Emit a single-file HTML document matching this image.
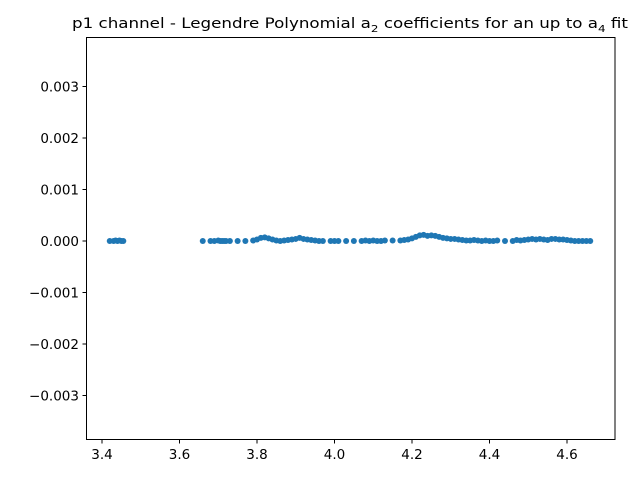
<!DOCTYPE html>
<html><head><meta charset="utf-8">
<style>
body{margin:0;background:#fff;}
svg{display:block;font-family:"DejaVu Sans","Liberation Sans",sans-serif;}
</style></head><body>
<svg id="chart" width="640" height="480">
<rect width="640" height="480" fill="#fff"/>
<g id="marks"></g>
<rect x="86.5" y="37.5" width="528.5" height="402" fill="none" stroke="#000" stroke-width="1"/>
<g id="xticks"></g>
<g id="yticks"></g>
<text x="72" y="28" font-size="14" textLength="556" lengthAdjust="spacingAndGlyphs">p1 channel - Legendre Polynomial a<tspan font-size="10" dy="4">2</tspan><tspan dy="-4"> coefficients for an up to a</tspan><tspan font-size="10" dy="4">4</tspan><tspan dy="-4"> fit</tspan></text>
</svg>
<script>
const xTicks=[3.4,3.6,3.8,4.0,4.2,4.4,4.6];
const xTickLabels=["3.4","3.6","3.8","4.0","4.2","4.4","4.6"];
const yTicks=[-0.003,-0.002,-0.001,0,0.001,0.002,0.003];
const yTickLabels=["−0.003","−0.002","−0.001","0.000","0.001","0.002","0.003"];
const xs=[3.42,3.43,3.435,3.44,3.445,3.45,3.455,
3.66,3.68,3.69,3.70,3.705,3.71,3.715,3.72,3.73,3.75,3.77,3.79,3.80,3.81,3.82,3.83,3.84,3.85,3.86,3.87,3.88,3.89,3.90,3.91,3.92,3.93,3.94,3.95,3.96,3.97,3.99,4.00,4.01,4.03,4.05,4.07,4.08,4.09,4.10,4.11,4.12,4.13,4.15,4.17,4.18,4.19,4.20,4.21,4.22,4.23,4.24,4.25,4.26,4.27,4.28,4.29,4.30,4.31,4.32,4.33,4.34,4.35,4.36,4.37,4.38,4.39,4.40,4.41,4.42,4.44,4.46,4.47,4.48,4.49,4.50,4.51,4.52,4.53,4.54,4.55,4.56,4.57,4.58,4.59,4.60,4.61,4.62,4.63,4.64,4.65,4.66];
const ys=[0,0,0.00001,0,0.00001,0,0,
0,0,0,0.00001,0,0,0,0,0,0,0,0.00001,0.00003,0.00006,0.00007,0.00005,0.00003,0.00001,0,0.00001,0.00002,0.00003,0.00004,0.00006,0.00004,0.00003,0.00002,0.00001,0,0,0,0,0,0,0,0,0.00001,0,0.00001,0,0,0.00001,0.00001,0.00001,0.00002,0.00003,0.00005,0.00008,0.00011,0.00012,0.0001,0.00011,0.0001,0.00008,0.00006,0.00005,0.00004,0.00004,0.00003,0.00002,0.00001,0.00001,0.00002,0.00001,0,0.00001,0,0,0.00001,0,0,0.00002,0.00001,0.00002,0.00003,0.00004,0.00003,0.00004,0.00003,0.00002,0.00004,0.00004,0.00003,0.00003,0.00002,0.00001,0,0,0,0,0];
const X=v=>102+(v-3.4)*387.5;
const Y=v=>241-v*51500;
const NS="http://www.w3.org/2000/svg";
const marks=document.getElementById('marks');
for(let i=0;i<xs.length;i++){
 const c=document.createElementNS(NS,'circle');
 c.setAttribute('cx',X(xs[i]));c.setAttribute('cy',Y(ys[i]));c.setAttribute('r',3);c.setAttribute('fill','#1f77b4');
 
 
 marks.appendChild(c);
}
const xg=document.getElementById('xticks');
xTicks.forEach((t,i)=>{
 const l=document.createElementNS(NS,'line');
 l.setAttribute('x1',X(t));l.setAttribute('x2',X(t));l.setAttribute('y1',439.5);l.setAttribute('y2',443.5);l.setAttribute('stroke','#000');
 
 
 xg.appendChild(l);
 const tx=document.createElementNS(NS,'text');
 tx.setAttribute('x',X(t));tx.setAttribute('y',459);tx.setAttribute('text-anchor','middle');tx.setAttribute('font-size','13.5');
 tx.textContent=xTickLabels[i];
 
 
 xg.appendChild(tx);
});
const yg=document.getElementById('yticks');
yTicks.forEach((t,i)=>{
 const l=document.createElementNS(NS,'line');
 l.setAttribute('x1',82.5);l.setAttribute('x2',86.5);l.setAttribute('y1',Y(t));l.setAttribute('y2',Y(t));l.setAttribute('stroke','#000');
 
 
 yg.appendChild(l);
 const tx=document.createElementNS(NS,'text');
 tx.setAttribute('x',79);tx.setAttribute('y',Y(t)+5);tx.setAttribute('text-anchor','end');tx.setAttribute('font-size','13.5');
 tx.textContent=yTickLabels[i];
 
 
 yg.appendChild(tx);
});
</script>
</body></html>
